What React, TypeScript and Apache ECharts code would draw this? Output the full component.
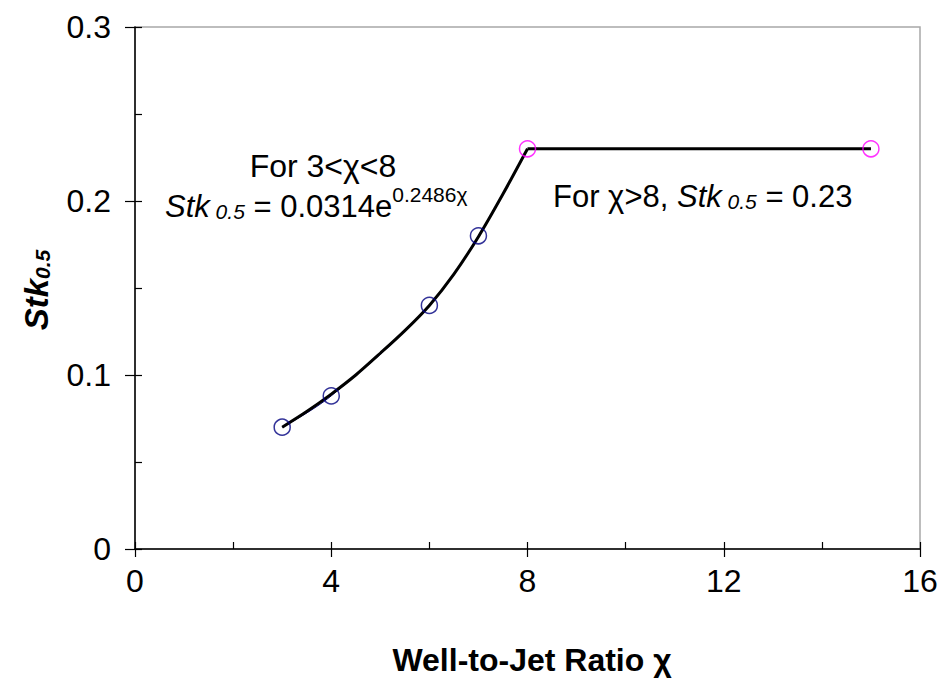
import React, { useEffect, useRef } from 'react';
import * as echarts from 'echarts';

// Measured data points (blue circles)
const dataX = [3, 4, 6, 7];
const dataY = [0.07, 0.088, 0.14, 0.18];
// Plateau points (magenta circles)
const plateauX = [8, 15];
const plateauY = [0.23, 0.23];
// Thin blue smoothed line through the data
const dataLineX = [3, 4, 6, 7, 8];
const dataLineY = [0.07, 0.088, 0.14, 0.18, 0.23];
// Black fitted curve
const fitX = [3, 3.5, 4, 4.5, 5, 5.5, 6, 6.5, 7, 7.5, 8];
const fitY = [0.07, 0.079, 0.089, 0.1, 0.1125, 0.1255, 0.14, 0.158, 0.1795, 0.204, 0.23];

const FONT = 'Liberation Sans, Arial, sans-serif';

const pairs = (xs: number[], ys: number[]) => xs.map((x, i) => [x, ys[i]]);

export default function App() {
  const ref = useRef<HTMLDivElement>(null);
  useEffect(() => {
    if (!ref.current) return;
    const chart = echarts.init(ref.current, undefined, { renderer: 'svg' });
    const tickLabel = { fontSize: 32, color: '#000', fontFamily: FONT };
    chart.setOption({
      animation: false,
      backgroundColor: '#fff',
      grid: {
        left: 135, right: 21, top: 27, bottom: 130,
        show: true, borderColor: '#a8a8a8', borderWidth: 1.5, backgroundColor: 'transparent',
      },
      xAxis: [
        {
          type: 'value', min: 0, max: 16, interval: 2, position: 'bottom',
          axisLine: { show: true, onZero: false, lineStyle: { color: '#000', width: 1.5 } },
          axisTick: { show: true, inside: true, length: 7, lineStyle: { color: '#000', width: 1.2 } },
          axisLabel: { ...tickLabel, margin: 16, formatter: (v: number) => (v % 4 === 0 ? String(v) : '') },
          splitLine: { show: false },
        },
        {
          type: 'value', min: 0, max: 16, interval: 4, position: 'bottom',
          axisLine: { show: false },
          axisTick: { show: true, inside: false, length: 8, lineStyle: { color: '#000', width: 1.2 } },
          axisLabel: { show: false },
          splitLine: { show: false },
        },
      ],
      yAxis: [
        {
          type: 'value', min: 0, max: 0.3, interval: 0.05, position: 'left',
          axisLine: { show: true, onZero: false, lineStyle: { color: '#000', width: 1.5 } },
          axisTick: { show: true, inside: true, length: 7, lineStyle: { color: '#000', width: 1.2 } },
          axisLabel: {
            ...tickLabel, margin: 24,
            formatter: (v: number) => {
              const k = Math.round(v * 100);
              return k % 10 === 0 ? (k === 0 ? '0' : (k / 100).toFixed(1)) : '';
            },
          },
          splitLine: { show: false },
        },
        {
          type: 'value', min: 0, max: 0.3, interval: 0.1, position: 'left',
          axisLine: { show: false },
          axisTick: { show: true, inside: false, length: 10, lineStyle: { color: '#000', width: 1.2 } },
          axisLabel: { show: false },
          splitLine: { show: false },
        },
      ],
      series: [
        {
          type: 'line', data: pairs(dataLineX, dataLineY), smooth: 0.4, symbol: 'none',
          lineStyle: { color: '#000080', width: 1 }, z: 2,
        },
        {
          type: 'line', data: pairs(fitX, fitY), smooth: 0.3, symbol: 'none',
          lineStyle: { color: '#000', width: 3 }, z: 3,
        },
        {
          type: 'line', data: pairs(plateauX, plateauY), symbol: 'none',
          lineStyle: { color: '#000', width: 3 }, z: 3,
        },
        {
          type: 'scatter', data: pairs(dataX, dataY), symbol: 'circle', symbolSize: 16,
          itemStyle: { color: 'rgba(0,0,0,0)', borderColor: '#000080', borderWidth: 1.5 }, z: 4,
        },
        {
          type: 'scatter', data: pairs(plateauX, plateauY), symbol: 'circle', symbolSize: 16,
          itemStyle: { color: 'rgba(0,0,0,0)', borderColor: '#ff00ff', borderWidth: 1.5 }, z: 4,
        },
      ],
      graphic: [
        {
          type: 'text', x: 33, y: 290, rotation: Math.PI / 2,
          style: {
            text: '{a|Stk}{b|0.5}', align: 'center', verticalAlign: 'middle',
            rich: {
              a: { fontSize: 33, fontWeight: 'bold', fontStyle: 'italic', fontFamily: FONT, lineHeight: 40, verticalAlign: 'bottom' },
              b: { fontSize: 21, fontWeight: 'bold', fontStyle: 'italic', fontFamily: FONT, lineHeight: 22, verticalAlign: 'bottom' },
            },
          },
        },
        {
          type: 'text', x: 532, y: 660,
          style: { text: 'Well-to-Jet Ratio χ', align: 'center', verticalAlign: 'middle', fontSize: 32, fontWeight: 'bold', fontFamily: FONT, fill: '#000' },
        },
        {
          type: 'text', x: 323, y: 166,
          style: { text: 'For 3<χ<8', align: 'center', verticalAlign: 'middle', fontSize: 32, fontFamily: FONT, fill: '#000' },
        },
        {
          type: 'text', x: 165, y: 203,
          style: {
            text: '{i|Stk}{s| 0.5}{n| = 0.0314e}{p|0.2486χ}', align: 'left', verticalAlign: 'middle',
            rich: {
              i: { fontSize: 31, fontStyle: 'italic', fontFamily: FONT, lineHeight: 38, verticalAlign: 'bottom' },
              s: { fontSize: 21, fontStyle: 'italic', fontFamily: FONT, lineHeight: 24, verticalAlign: 'bottom' },
              n: { fontSize: 31, fontFamily: FONT, lineHeight: 38, verticalAlign: 'bottom' },
              p: { fontSize: 21, fontFamily: FONT, lineHeight: 21, verticalAlign: 'top' },
            },
          },
        },
        {
          type: 'text', x: 553, y: 193,
          style: {
            text: '{n|For χ>8, }{i|Stk}{s| 0.5}{n| = 0.23}', align: 'left', verticalAlign: 'middle',
            rich: {
              i: { fontSize: 31, fontStyle: 'italic', fontFamily: FONT, lineHeight: 38, verticalAlign: 'bottom' },
              s: { fontSize: 21, fontStyle: 'italic', fontFamily: FONT, lineHeight: 28, verticalAlign: 'bottom' },
              n: { fontSize: 31, fontFamily: FONT, lineHeight: 38, verticalAlign: 'bottom' },
            },
          },
        },
      ],
    });
    return () => chart.dispose();
  }, []);
  return <div ref={ref} style={{ position: 'absolute', left: 0, top: 0, width: 941, height: 679 }} />;
}
